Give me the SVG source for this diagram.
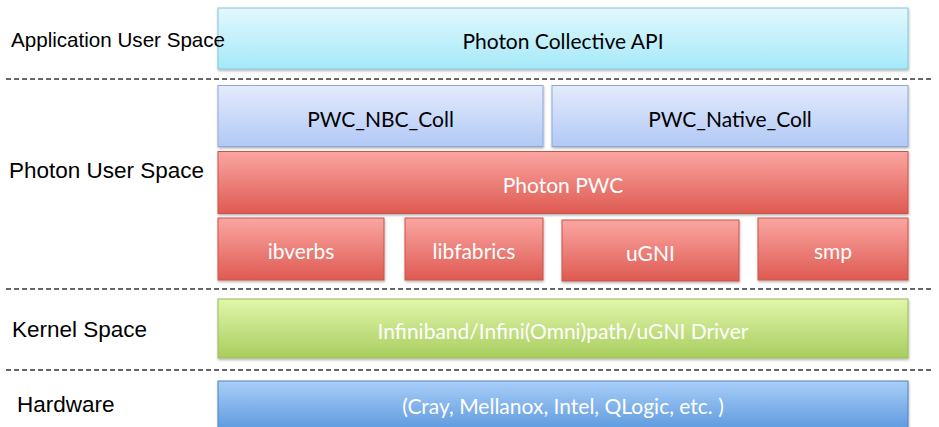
<svg xmlns="http://www.w3.org/2000/svg" width="939" height="427" viewBox="0 0 939 427">
  <defs>
    <linearGradient id="gCyan" x1="0" y1="0" x2="0" y2="1">
      <stop offset="0" stop-color="#e2f8fd"/>
      <stop offset="1" stop-color="#a5e9f9"/>
    </linearGradient>
    <linearGradient id="gLav" x1="0" y1="0" x2="0" y2="1">
      <stop offset="0" stop-color="#e4ebfc"/>
      <stop offset="1" stop-color="#b1c9f6"/>
    </linearGradient>
    <linearGradient id="gRed" x1="0" y1="0" x2="0" y2="1">
      <stop offset="0" stop-color="#fba6a1"/>
      <stop offset="1" stop-color="#de5a52"/>
    </linearGradient>
    <linearGradient id="gGreen" x1="0" y1="0" x2="0" y2="1">
      <stop offset="0" stop-color="#e1f6ab"/>
      <stop offset="1" stop-color="#a8cd5e"/>
    </linearGradient>
    <linearGradient id="gBlue" x1="0" y1="0" x2="0" y2="1">
      <stop offset="0" stop-color="#a9cef8"/>
      <stop offset="1" stop-color="#4c8ed8"/>
    </linearGradient>
    <filter id="shadow" x="-5%" y="-10%" width="110%" height="130%">
      <feDropShadow dx="0.5" dy="1.5" stdDeviation="1" flood-color="#000" flood-opacity="0.3"/>
    </filter>
  </defs>
  <style>
    .box { stroke-width: 1; filter: url(#shadow); }
    .cyan { fill: url(#gCyan); stroke: #86c6d6; }
    .lav { fill: url(#gLav); stroke: #8fa9d6; }
    .red { fill: url(#gRed); stroke: #c9524c; }
    .green { fill: url(#gGreen); stroke: #9cbc5a; }
    .blue { fill: url(#gBlue); stroke: #4f81bd; }
    .lbl { font-family: Lato, "Open Sans", sans-serif; font-size: 21px; text-anchor: middle; }
    .dark { fill: #000; }
    .light { fill: #fff; }
    .side { font-family: "Liberation Sans", Arial, sans-serif; font-size: 22.5px; fill: #000; }
    .sep { stroke: #333; stroke-width: 1.5; stroke-dasharray: 5 3; fill: none; }
  </style>

  <rect width="939" height="427" fill="#fff"/>

  <!-- layer separators -->
  <g id="separators">
    <line class="sep" x1="6" y1="79" x2="934" y2="79"/>
    <line class="sep" x1="6" y1="289" x2="934" y2="289"/>
    <line class="sep" x1="6" y1="370" x2="934" y2="370"/>
  </g>

  <g id="api">
    <rect class="box cyan" x="218" y="8" width="690" height="61"/>
    <text class="lbl dark" x="563" y="48.5">Photon Collective API</text>
  </g>
  <g id="nbc-coll">
    <rect class="box lav" x="218" y="85.5" width="325" height="61"/>
    <text class="lbl dark" x="380.5" y="126.5">PWC_NBC_Coll</text>
  </g>
  <g id="native-coll">
    <rect class="box lav" x="552" y="85.5" width="356" height="61"/>
    <text class="lbl dark" x="730" y="126.5">PWC_Native_Coll</text>
  </g>
  <g id="photon-pwc">
    <rect class="box red" x="218" y="151.5" width="690" height="62"/>
    <text class="lbl light" x="563" y="192.5">Photon PWC</text>
  </g>
  <g id="ibverbs">
    <rect class="box red" x="218" y="218" width="166" height="62"/>
    <text class="lbl light" x="301" y="258.5">ibverbs</text>
  </g>
  <g id="libfabrics">
    <rect class="box red" x="405" y="218" width="138" height="62"/>
    <text class="lbl light" x="474" y="258.5">libfabrics</text>
  </g>
  <g id="ugni">
    <rect class="box red" x="562" y="220" width="177" height="61"/>
    <text class="lbl light" x="650.5" y="260.5">uGNI</text>
  </g>
  <g id="smp">
    <rect class="box red" x="758" y="218" width="150" height="62"/>
    <text class="lbl light" x="833" y="258.5">smp</text>
  </g>
  <g id="kernel-driver">
    <rect class="box green" x="218" y="299" width="690" height="59"/>
    <text class="lbl light" x="563" y="338.5">Infiniband/Infini(Omni)path/uGNI Driver</text>
  </g>
  <g id="hardware">
    <rect class="box blue" x="218" y="381" width="690" height="60"/>
    <text class="lbl light" x="563" y="413.5">(Cray, Mellanox, Intel, QLogic, etc. )</text>
  </g>

  <!-- layer names, drawn last so they sit above the boxes -->
  <g id="layer-names">
    <text class="side" x="11" y="46.5" style="font-size:20.6px">Application User Space</text>
    <text class="side" x="9" y="177.5">Photon User Space</text>
    <text class="side" x="12" y="337">Kernel Space</text>
    <text class="side" x="17" y="412">Hardware</text>
  </g>

  <g id="connectors"/>
</svg>
